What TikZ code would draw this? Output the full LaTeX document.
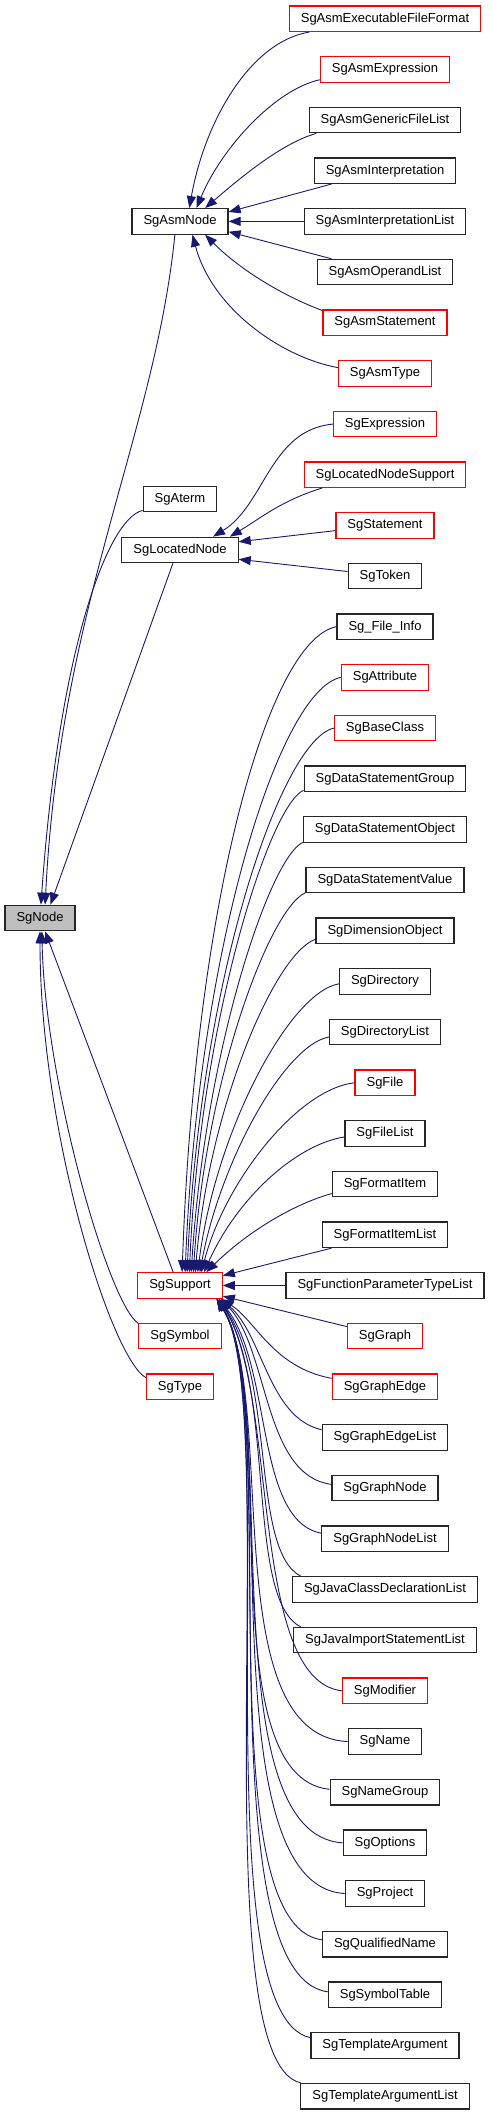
\documentclass[tikz,border=0pt]{standalone}
\usepackage{fontspec}
\setmainfont{Liberation Sans}
\usetikzlibrary{arrows.meta}

\definecolor{edgeblue}{HTML}{191970}
\definecolor{boxred}{HTML}{FF0000}
\definecolor{rootgray}{HTML}{BFBFBF}

\tikzset{
  classbox/.style={draw=black!85, line width=1.2pt, fill=white, inner xsep=11.5pt,
    inner ysep=0pt, minimum height=25.5pt, font=\fontsize{13}{15}\selectfont},
  redbox/.style={classbox, draw=boxred},
  rootbox/.style={classbox, fill=rootgray},
  inh/.style={draw=edgeblue, line width=0.9pt, -{Triangle[length=12pt,width=9pt]}}
}

\begin{document}
\begin{tikzpicture}[x=1pt,y=-1pt]
\useasboundingbox (0,0) rectangle (491,2115);

% base class
\node[rootbox] (sgnode) at (40,918) {SgNode};

% second level
\node[classbox] (asmnode) at (180,221.4) {SgAsmNode};
\node[classbox] (aterm) at (180,499) {SgAterm};
\node[classbox] (locnode) at (180,550) {SgLocatedNode};
\node[redbox] (support) at (180,1285.5) {SgSupport};
\node[redbox] (symbol) at (180,1336.1) {SgSymbol};
\node[redbox] (type) at (180,1386.8) {SgType};

% third level
\node[redbox] (asmexe) at (385,18.7) {SgAsmExecutableFileFormat};
\node[redbox] (asmexpr) at (385,69.4) {SgAsmExpression};
\node[classbox] (asmgenlist) at (385,120.0) {SgAsmGenericFileList};
\node[classbox] (asminterp) at (385,170.7) {SgAsmInterpretation};
\node[classbox] (asminterplist) at (385,221.4) {SgAsmInterpretationList};
\node[classbox] (asmoperands) at (385,272.1) {SgAsmOperandList};
\node[redbox] (asmstmt) at (385,322.7) {SgAsmStatement};
\node[redbox] (asmtype) at (385,373.4) {SgAsmType};
\node[redbox] (expr) at (385,424.1) {SgExpression};
\node[redbox] (locsupport) at (385,474.7) {SgLocatedNodeSupport};
\node[redbox] (stmt) at (385,525.4) {SgStatement};
\node[classbox] (token) at (385,576.1) {SgToken};
\node[classbox] (fileinfo) at (385,626.7) {Sg\_File\_Info};
\node[redbox] (attribute) at (385,677.4) {SgAttribute};
\node[redbox] (baseclass) at (385,728.1) {SgBaseClass};
\node[classbox] (dsgroup) at (385,778.8) {SgDataStatementGroup};
\node[classbox] (dsobject) at (385,829.4) {SgDataStatementObject};
\node[classbox] (dsvalue) at (385,880.1) {SgDataStatementValue};
\node[classbox] (dimobject) at (385,930.8) {SgDimensionObject};
\node[classbox] (directory) at (385,981.4) {SgDirectory};
\node[classbox] (dirlist) at (385,1032.1) {SgDirectoryList};
\node[redbox] (file) at (385,1082.8) {SgFile};
\node[classbox] (filelist) at (385,1133.4) {SgFileList};
\node[classbox] (formatitem) at (385,1184.1) {SgFormatItem};
\node[classbox] (formatitemlist) at (385,1234.8) {SgFormatItemList};
\node[classbox] (fptlist) at (385,1285.5) {SgFunctionParameterTypeList};
\node[redbox] (graph) at (385,1336.1) {SgGraph};
\node[redbox] (graphedge) at (385,1386.8) {SgGraphEdge};
\node[classbox] (graphedgelist) at (385,1437.5) {SgGraphEdgeList};
\node[classbox] (graphnode) at (385,1488.1) {SgGraphNode};
\node[classbox] (graphnodelist) at (385,1538.8) {SgGraphNodeList};
\node[classbox] (javaclass) at (385,1589.5) {SgJavaClassDeclarationList};
\node[classbox] (javaimport) at (385,1640.1) {SgJavaImportStatementList};
\node[redbox] (modifier) at (385,1690.8) {SgModifier};
\node[classbox] (name) at (385,1741.5) {SgName};
\node[classbox] (namegroup) at (385,1792.2) {SgNameGroup};
\node[classbox] (options) at (385,1842.8) {SgOptions};
\node[classbox] (project) at (385,1893.5) {SgProject};
\node[classbox] (qualname) at (385,1944.2) {SgQualifiedName};
\node[classbox] (symtable) at (385,1994.8) {SgSymbolTable};
\node[classbox] (targ) at (385,2045.5) {SgTemplateArgument};
\node[classbox] (targlist) at (385,2096.2) {SgTemplateArgumentList};

% into SgNode
\draw[inh] (asmnode.249) .. controls +(-20,200) and +(15,-300) .. (sgnode.69);
\draw[inh] (aterm.197) .. controls +(-35,8) and +(18,-255) .. (sgnode.86);
\draw[inh] (locnode.242) -- (sgnode.52);
\draw[inh] (support.117) -- (sgnode.-69);
\draw[inh] (symbol.163) .. controls +(-30,-20) and +(3,150) .. (sgnode.-82);
\draw[inh] (type.165) .. controls +(-35,-20) and +(0,200) .. (sgnode.south);

% into SgAsmNode
\draw[inh] (asmexe.190) .. controls +(-60,10) and +(15,-85) .. (asmnode.55);
\draw[inh] (asmexpr.189) .. controls +(-45,10) and +(25,-60) .. (asmnode.39);
\draw[inh] (asmgenlist.191) .. controls +(-35,10) and +(35,-30) .. (asmnode.28);
\draw[inh] (asminterp.194) -- (asmnode.11);
\draw[inh] (asminterplist) -- (asmnode);
\draw[inh] (asmoperands.166) -- (asmnode.-12);
\draw[inh] (asmstmt.169) .. controls +(-40,-15) and +(35,35) .. (asmnode.-28);
\draw[inh] (asmtype.173) .. controls +(-55,-10) and +(20,75) .. (asmnode.-47);

% into SgLocatedNode
\draw[inh] (expr.west) .. controls +(-63,6) and +(52,-32) .. (locnode.22);
\draw[inh] (locsupport.192) .. controls +(-40,12) and +(30,-18) .. (locnode.15);
\draw[inh] (stmt.186) -- (locnode.8);
\draw[inh] (token.173) -- (locnode.-9);

% into SgSupport, from above
\draw[inh] (fileinfo.west) .. controls +(-68,13) and +(13,-372) .. (support.81);
\draw[inh] (attribute.west) .. controls +(-62,13) and +(13,-322) .. (support.69);
\draw[inh] (baseclass.west) .. controls +(-53,12) and +(13,-292) .. (support.62);
\draw[inh] (dsgroup.188) .. controls +(-34,15) and +(11,-252) .. (support.55);
\draw[inh] (dsobject.189) .. controls +(-33,15) and +(14,-222) .. (support.50);
\draw[inh] (dsvalue.189) .. controls +(-36,16) and +(12,-192) .. (support.45);
\draw[inh] (dimobject.187) .. controls +(-41,14) and +(13,-162) .. (support.41);
\draw[inh] (directory.183) .. controls +(-49,8) and +(18,-142) .. (support.37);
\draw[inh] (dirlist.185) .. controls +(-44,8) and +(21,-112) .. (support.34);
\draw[inh] (file.west) .. controls +(-56,6) and +(24,-92) .. (support.32);
\draw[inh] (filelist.185) .. controls +(-50,8) and +(32,-72) .. (support.29);
\draw[inh] (formatitem.190) .. controls +(-42,12) and +(39,-38) .. (support.27);
\draw[inh] (formatitemlist.194) -- (support.13);
\draw[inh] (fptlist) -- (support);
\draw[inh] (graph.166) -- (support.-14);

% into SgSupport, from below
\draw[inh] (graphedge.171) .. controls +(-59,-11) and +(35,22) .. (support.-18);
\draw[inh] (graphedgelist.173) .. controls +(-53,-12) and +(42,37) .. (support.-18);
\draw[inh] (graphnode.176) .. controls +(-68,-9) and +(48,52) .. (support.-18);
\draw[inh] (graphnodelist.175) .. controls +(-67,-13) and +(54,67) .. (support.-19);
\draw[inh] (javaclass.171) .. controls +(-50,-26) and +(57,82) .. (support.-19);
\draw[inh] (javaimport.171) .. controls +(-55,-27) and +(57,92) .. (support.-19);
\draw[inh] (modifier.west) .. controls +(-93,-11) and +(60,97) .. (support.-19);
\draw[inh] (name.west) .. controls +(-133,-6) and +(62,102) .. (support.-20);
\draw[inh] (namegroup.177) .. controls +(-121,-12) and +(64,102) .. (support.-20);
\draw[inh] (options.west) .. controls +(-133,-8) and +(64,102) .. (support.-20);
\draw[inh] (project.west) .. controls +(-140,-8) and +(66,102) .. (support.-20);
\draw[inh] (qualname.176) .. controls +(-118,-15) and +(66,102) .. (support.-20);
\draw[inh] (symtable.177) .. controls +(-125,-17) and +(66,102) .. (support.-20);
\draw[inh] (targ.174) .. controls +(-111,-23) and +(66,102) .. (support.-20);
\draw[inh] (targlist.171) .. controls +(-101,-23) and +(66,102) .. (support.-20);
\end{tikzpicture}
\end{document}
